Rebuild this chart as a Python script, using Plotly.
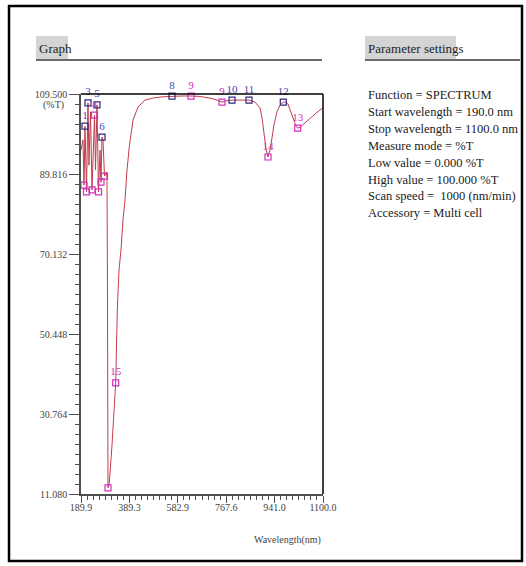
import plotly.graph_objects as go

# ---------------- data ----------------
wavelength = [190.0, 197.4, 201.2, 204.9, 210.6, 216.2, 220.0, 225.6, 231.3, 240.7,
              244.4, 250.1, 255.7, 261.4, 265.1, 268.9, 272.6, 278.3, 285.8, 287.7,
              289.6, 291.4, 296.3, 306.5, 320.4, 326.4, 332.8, 340.3, 347.8, 355.4,
              362.9, 371.5, 385.5, 404.3, 430.6, 460.7, 494.5, 532.1, 566.0, 603.6,
              637.4, 663.8, 682.6, 701.3, 720.2, 735.2, 757.8, 787.9, 821.7, 844.3,
              855.6, 863.1, 870.6, 878.1, 885.6, 893.2, 900.7, 908.2, 915.7, 927.0,
              938.3, 950.7, 960.9, 968.4, 979.7, 987.2, 998.5, 1004.8, 1013.5, 1032.3,
              1051.1, 1073.7, 1100.0]
transmittance = [95.7, 98.2, 87.1, 101.6, 85.4, 107.3, 92.0, 105.1, 85.9, 104.3,
                 90.8, 106.8, 85.4, 95.7, 87.8, 98.9, 98.2, 89.3, 90.3, 88.8,
                 58.8, 12.6, 13.8, 23.1, 38.4, 56.4, 66.2, 71.1, 78.5, 83.4,
                 90.8, 96.5, 103.1, 106.3, 108.0, 108.5, 108.8, 109.0, 109.0, 109.0,
                 108.9, 108.6, 108.4, 108.0, 107.5, 107.8, 108.0, 108.0, 108.0, 107.5,
                 106.8, 106.1, 103.7, 99.4, 96.0, 94.0, 95.7, 98.7, 101.9, 105.1,
                 106.8, 107.5, 107.5, 107.0, 105.1, 103.6, 101.6, 101.1, 101.3, 102.4,
                 103.6, 104.8, 106.1]

peak_wl = [204.9, 216.2, 250.1, 268.9, 532.1, 757.8, 821.7, 950.7]
peak_t = [101.6, 107.3, 106.8, 98.9, 109.0, 108.0, 108.0, 107.5]
peak_labels = ["1", "3", "5", "6", "8", "10", "11", "12"]

valley_wl = [201.2, 210.6, 231.3, 240.7, 255.7, 265.1, 278.3, 291.4, 320.4,
             603.6, 720.2, 893.2, 1004.8]
valley_t = [87.1, 85.4, 85.9, 104.3, 85.4, 87.8, 89.3, 12.6, 38.4,
            109.0, 107.5, 94.0, 101.1]
valley_labels = ["", "", "", "4", "", "", "", "", "15", "9", "9", "14", "13"]

x_tick_vals = [189.9, 371.92, 553.94, 735.96, 917.98, 1100.0]
x_tick_text = ["189.9", "389.3", "582.9", "767.6", "941.0", "1100.0"]
y_tick_vals = [11.080, 30.764, 50.448, 70.132, 89.816, 109.500]
y_tick_text = ["11.080", "30.764", "50.448", "70.132", "89.816", "109.500"]

param_lines = [
    "Function = SPECTRUM",
    "Start wavelength = 190.0 nm",
    "Stop wavelength = 1100.0 nm",
    "Measure mode = %T",
    "Low value = 0.000 %T",
    "High value = 100.000 %T",
    "Scan speed =  1000 (nm/min)",
    "Accessory = Multi cell",
]

# ---------------- figure ----------------
W, H = 526, 566
SERIF = "Liberation Serif, Times New Roman, serif"


def px(x):
    return x / W


def py(y):
    return 1 - y / H


fig = go.Figure()
fig.add_trace(go.Scatter(x=wavelength, y=transmittance, mode="lines",
                         line=dict(color="#c23c4c", width=1), hoverinfo="skip",
                         cliponaxis=False))
fig.add_trace(go.Scatter(x=peak_wl, y=peak_t, mode="markers+text", text=peak_labels,
                         textposition="top center", cliponaxis=False,
                         textfont=dict(family=SERIF, size=11, color="#4848b8"),
                         marker=dict(symbol="square-open", size=6, color="#30287a",
                                     line=dict(width=1.2))))
fig.add_trace(go.Scatter(x=valley_wl, y=valley_t, mode="markers+text", text=valley_labels,
                         textposition="top center", cliponaxis=False,
                         textfont=dict(family=SERIF, size=11, color="#d030c0"),
                         marker=dict(symbol="square-open", size=6, color="#d030c0",
                                     line=dict(width=1.2))))

axis_col = "#505050"
fig.update_layout(
    width=W, height=H, autosize=False,
    margin=dict(l=0, r=0, t=0, b=0, pad=0, autoexpand=False),
    paper_bgcolor="white", plot_bgcolor="white", showlegend=False,
    xaxis=dict(domain=[px(81), px(323)], range=[189.9, 1100.0], automargin=False,
               tickmode="array", tickvals=x_tick_vals, ticktext=x_tick_text,
               ticks="outside", ticklen=7, tickcolor=axis_col, tickwidth=1,
               ticklabelstandoff=-4,
               showline=True, linecolor=axis_col, linewidth=1.5,
               showgrid=False, zeroline=False,
               tickfont=dict(family=SERIF, size=10, color="#444444"),
               minor=dict(tickmode="linear", tick0=189.9, dtick=22.7525,
                          ticks="outside", ticklen=4, tickcolor=axis_col, showgrid=False)),
    yaxis=dict(domain=[py(494), py(94)], range=[11.08, 109.5], automargin=False,
               tickmode="array", tickvals=y_tick_vals, ticktext=y_tick_text,
               ticks="outside", ticklen=10, tickcolor=axis_col, tickwidth=1,
               showline=True, linecolor=axis_col, linewidth=1.5,
               showgrid=False, zeroline=False,
               tickfont=dict(family=SERIF, size=10, color="#444444"),
               minor=dict(tickmode="linear", tick0=11.08, dtick=2.4605,
                          ticks="outside", ticklen=4, tickcolor=axis_col, showgrid=False)),
)

shapes = [
    # outer border
    dict(type="rect", xref="paper", yref="paper", x0=px(9), x1=px(522), y0=py(561), y1=py(6),
         line=dict(color="black", width=2.5)),
    # plot frame top/right
    dict(type="line", xref="x domain", yref="y domain", x0=0, x1=1, y0=1, y1=1,
         line=dict(color="black", width=1.5)),
    dict(type="line", xref="x domain", yref="y domain", x0=1, x1=1, y0=0, y1=1,
         line=dict(color="black", width=1.5)),
    # heading backgrounds
    dict(type="rect", xref="paper", yref="paper", x0=px(36), x1=px(68), y0=py(59), y1=py(36),
         line=dict(width=0), fillcolor="#d4d4d4", layer="below"),
    dict(type="rect", xref="paper", yref="paper", x0=px(365), x1=px(456), y0=py(59), y1=py(36),
         line=dict(width=0), fillcolor="#d4d4d4", layer="below"),
    # heading underlines
    dict(type="line", xref="paper", yref="paper", x0=px(36), x1=px(322), y0=py(60), y1=py(60),
         line=dict(color="#6a6a6a", width=2)),
    dict(type="line", xref="paper", yref="paper", x0=px(365), x1=px(520), y0=py(60), y1=py(60),
         line=dict(color="#6a6a6a", width=2)),
]
fig.update_layout(shapes=shapes)

ann = [
    dict(text="Graph", x=px(37), y=py(48), xanchor="left", yanchor="middle",
         font=dict(family=SERIF, size=13, color="#222222")),
    dict(text="Parameter settings", x=px(366), y=py(48), xanchor="left", yanchor="middle",
         font=dict(family=SERIF, size=13, color="#222222")),
    dict(text="(%T)", x=px(53), y=py(105), xanchor="center", yanchor="middle",
         font=dict(family=SERIF, size=10, color="#444444")),
    dict(text="Wavelength(nm)", x=px(323), y=py(540), xanchor="right", yanchor="middle",
         font=dict(family=SERIF, size=10, color="#444444")),
]
for i, line in enumerate(param_lines):
    ann.append(dict(text=line, x=px(366), y=py(95 + i * 16.9), xanchor="left",
                    yanchor="middle", font=dict(family=SERIF, size=12.5, color="#222222")))
for a in ann:
    a.update(xref="paper", yref="paper", showarrow=False)
fig.update_layout(annotations=ann)

fig.write_html("out.html", config={"responsive": False})
